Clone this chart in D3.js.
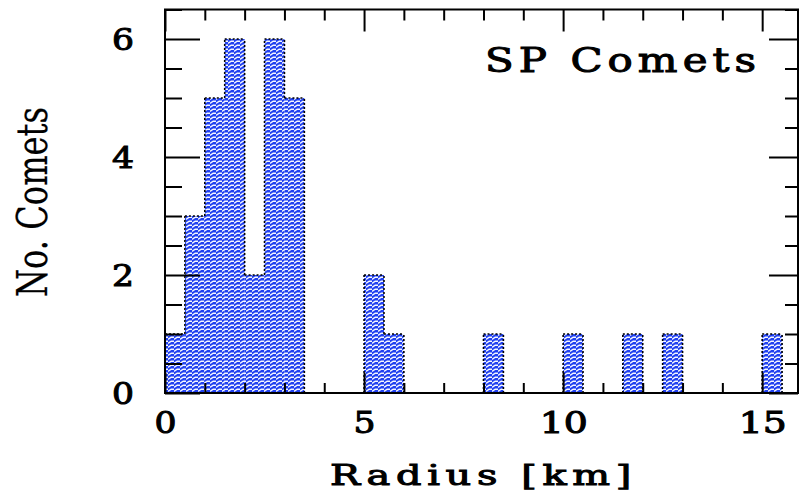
<!DOCTYPE html>
<html>
<head>
<meta charset="utf-8">
<script src="https://cdn.jsdelivr.net/npm/d3@7"></script>
<style>
  html, body { margin: 0; padding: 0; background: #fff; }
  svg { display: block; }
  .lbl { font-family: "DejaVu Serif", "Liberation Serif", serif; font-weight: normal;
         fill: #000; stroke: #000; stroke-width: 1px; }
</style>
</head>
<body>
<svg id="chart" width="803" height="493"></svg>
<script>
// Histogram of short-period comet nucleus radii (0.5 km bins)
const binStarts = [0, 0.5, 1, 1.5, 2, 2.5, 3, 5, 5.5, 8, 10, 11.5, 12.5, 15];
const counts    = [1, 3,   5, 6,   2, 6,   5, 2, 1,   1, 1,  1,    1,    1];
const binWidth = 0.5;
const xMajorTicks = [0, 5, 10, 15];
const yMajorTicks = [0, 2, 4, 6];
const titleText = "SP Comets";
const xLabel = "Radius [km]";
const yLabel = "No. Comets";

const svg = d3.select("#chart");
const plotL = 165, plotR = 798, plotT = 9.5, plotB = 393;
const x = d3.scaleLinear().domain([0, 15.9]).range([plotL, plotR]);
const y = d3.scaleLinear().domain([0, 6.5]).range([plotB, plotT]);

// hatched blue fill
const defs = svg.append("defs");
const pat = defs.append("pattern").attr("id", "hatch")
  .attr("patternUnits", "userSpaceOnUse").attr("width", 6).attr("height", 4);
pat.append("rect").attr("width", 6).attr("height", 4).attr("fill", "#2040f0");
pat.append("path").attr("d", "M0,3.3 L3.2,1.2 L6,1.2")
  .attr("stroke", "#f4f6ff").attr("stroke-width", 1.4).attr("fill", "none");

const bins = binStarts.map((s, i) => ({ x0: s, x1: s + binWidth, n: counts[i] }));

svg.append("g").selectAll("rect").data(bins).join("rect")
  .attr("x", d => x(d.x0))
  .attr("y", d => y(d.n))
  .attr("width", d => x(d.x1) - x(d.x0))
  .attr("height", d => y(0) - y(d.n))
  .attr("fill", "url(#hatch)");

// histogram outline: tops plus vertical steps between neighbouring bins
const heightAt = v => {
  const b = bins.find(d => Math.abs(d.x0 - v) < 1e-6);
  return b ? b.n : 0;
};
const outline = d3.path();
bins.forEach(d => {
  outline.moveTo(x(d.x0), y(d.n));
  outline.lineTo(x(d.x1), y(d.n));
});
const edges = new Set();
bins.forEach(d => { edges.add(d.x0); edges.add(d.x1); });
edges.forEach(e => {
  const a = heightAt(e - binWidth), b = heightAt(e);
  if (a !== b) {
    outline.moveTo(x(e), y(Math.min(a, b)));
    outline.lineTo(x(e), y(Math.max(a, b)));
  }
});
svg.append("path").attr("d", outline.toString())
  .attr("fill", "none").attr("stroke", "#000").attr("stroke-width", 1.6)
  .attr("stroke-dasharray", "2,2");

// axes: ticks drawn inward on all four sides
const xMinor = d3.range(0, 16, 1).filter(v => !xMajorTicks.includes(v));
const yMinor = d3.range(0, 6.51, 0.5).filter(v => !yMajorTicks.includes(v));

function styleAxis(g) {
  g.select(".domain").remove();
  g.selectAll(".tick line").attr("stroke", "#000").attr("stroke-width", 2);
}
// wide, spaced digits for tick labels
function styleLabels(sel) {
  sel.attr("class", "lbl").attr("font-family", null).attr("font-size", null).attr("fill", null)
    .style("font-size", "29px")
    .attr("textLength", d => { const n = String(d).length; return 22 * n + 4 * (n - 1); })
    .attr("lengthAdjust", "spacingAndGlyphs");
}

svg.append("g").attr("transform", `translate(0,${plotB})`)
  .call(d3.axisBottom(x).tickValues(xMinor).tickSize(-10).tickFormat(""))
  .call(styleAxis);
const xAx = svg.append("g").attr("transform", `translate(0,${plotB})`)
  .call(d3.axisBottom(x).tickValues(xMajorTicks).tickSize(-20).tickFormat(d3.format("d")))
  .call(styleAxis);
xAx.selectAll(".tick text").call(styleLabels).attr("y", 40).attr("dy", 0);

svg.append("g").attr("transform", `translate(0,${plotT})`)
  .call(d3.axisTop(x).tickValues(xMinor).tickSize(-11).tickFormat(""))
  .call(styleAxis);
svg.append("g").attr("transform", `translate(0,${plotT})`)
  .call(d3.axisTop(x).tickValues(xMajorTicks).tickSize(-22).tickFormat(""))
  .call(styleAxis);

svg.append("g").attr("transform", `translate(${plotL},0)`)
  .call(d3.axisLeft(y).tickValues(yMinor).tickSize(-17).tickFormat(""))
  .call(styleAxis);
const yAx = svg.append("g").attr("transform", `translate(${plotL},0)`)
  .call(d3.axisLeft(y).tickValues(yMajorTicks).tickSize(-35).tickFormat(d3.format("d")))
  .call(styleAxis);
yAx.selectAll(".tick text").call(styleLabels)
  .attr("x", -42).attr("text-anchor", "middle").attr("dy", 10.5);

svg.append("g").attr("transform", `translate(${plotR},0)`)
  .call(d3.axisRight(y).tickValues(yMinor).tickSize(-13).tickFormat(""))
  .call(styleAxis);
svg.append("g").attr("transform", `translate(${plotR},0)`)
  .call(d3.axisRight(y).tickValues(yMajorTicks).tickSize(-29).tickFormat(""))
  .call(styleAxis);

// frame
svg.append("rect").attr("x", plotL).attr("y", plotT)
  .attr("width", plotR - plotL).attr("height", plotB - plotT)
  .attr("fill", "none").attr("stroke", "#000").attr("stroke-width", 2);

// titles
svg.append("text").attr("class", "lbl")
  .attr("x", 485).attr("y", 72)
  .style("font-size", "33px").style("letter-spacing", "4px")
  .attr("textLength", 276).attr("lengthAdjust", "spacingAndGlyphs")
  .text(titleText);

svg.append("text").attr("class", "lbl")
  .attr("x", 330).attr("y", 485)
  .style("font-size", "28px").style("letter-spacing", "4px")
  .attr("textLength", 307).attr("lengthAdjust", "spacingAndGlyphs")
  .text(xLabel);

svg.append("text").attr("class", "lbl")
  .attr("transform", "translate(47,297) rotate(-90)")
  .style("font-size", "43px").style("stroke-width", "0.2px")
  .attr("textLength", 190).attr("lengthAdjust", "spacingAndGlyphs")
  .text(yLabel);
</script>
</body>
</html>
